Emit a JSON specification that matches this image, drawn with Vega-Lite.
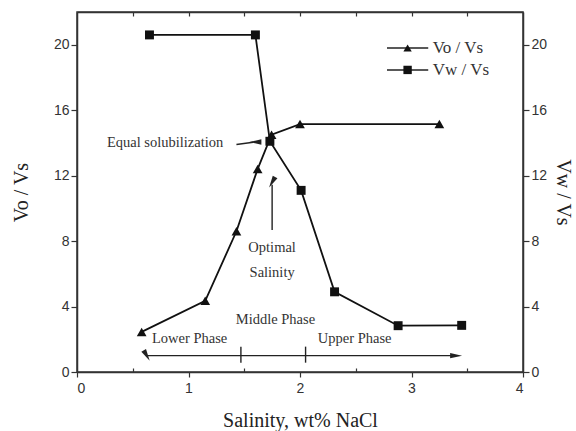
{
  "$schema": "https://vega.github.io/schema/vega-lite/v6.json",
  "width": 446,
  "height": 360,
  "autosize": {"type": "none"},
  "padding": {"left": 77, "top": 12, "right": 53, "bottom": 59},
  "background": "white",
  "config": {
    "view": {"stroke": "#333", "strokeWidth": 1.5},
    "axis": {
      "grid": false,
      "domainColor": "#333",
      "domainWidth": 1.5,
      "tickColor": "#333",
      "tickWidth": 1.2,
      "labelFont": "Liberation Sans",
      "labelFontSize": 14,
      "labelColor": "#333",
      "titleFont": "Liberation Serif",
      "titleFontSize": 20,
      "titleFontWeight": "normal",
      "titleColor": "#222"
    }
  },
  "datasets": {
    "series": [
      {"series": "Vo / Vs", "s": 0.58, "v": 2.45},
      {"series": "Vo / Vs", "s": 1.15, "v": 4.35},
      {"series": "Vo / Vs", "s": 1.43, "v": 8.6},
      {"series": "Vo / Vs", "s": 1.62, "v": 12.4},
      {"series": "Vo / Vs", "s": 1.745, "v": 14.5},
      {"series": "Vo / Vs", "s": 2.0, "v": 15.15},
      {"series": "Vo / Vs", "s": 3.25, "v": 15.15},
      {"series": "Vw / Vs", "s": 0.65, "v": 20.6},
      {"series": "Vw / Vs", "s": 1.6, "v": 20.6},
      {"series": "Vw / Vs", "s": 1.73, "v": 14.1},
      {"series": "Vw / Vs", "s": 2.01, "v": 11.1},
      {"series": "Vw / Vs", "s": 2.31, "v": 4.9},
      {"series": "Vw / Vs", "s": 2.88, "v": 2.83},
      {"series": "Vw / Vs", "s": 3.45, "v": 2.85}
    ],
    "labels": [
      {"x": 1.01, "y": 2.0, "t": "Lower Phase"},
      {"x": 1.78, "y": 3.18, "t": "Middle Phase"},
      {"x": 2.49, "y": 2.0, "t": "Upper Phase"},
      {"x": 0.79, "y": 14.0, "t": "Equal solubilization"},
      {"x": 1.75, "y": 7.56, "t": "Optimal"},
      {"x": 1.75, "y": 6.03, "t": "Salinity"}
    ],
    "segments": [
      {"x": 0.62, "y": 1.0, "x2": 3.4, "y2": 1.0},
      {"x": 1.47, "y": 0.57, "x2": 1.47, "y2": 1.55},
      {"x": 2.05, "y": 0.57, "x2": 2.05, "y2": 1.55},
      {"x": 1.43, "y": 13.9, "x2": 1.58, "y2": 14.04},
      {"x": 1.75, "y": 8.68, "x2": 1.75, "y2": 11.45}
    ],
    "heads": [
      {"x": 0.625, "y": 1.0, "dir": "left"},
      {"x": 3.4, "y": 1.0, "dir": "right"},
      {"x": 1.6, "y": 14.06, "dir": "upright"},
      {"x": 1.75, "y": 11.6, "dir": "up"}
    ],
    "legend": [
      {"series": "Vo / Vs", "y": 19.8, "x": 2.78, "x2": 3.15, "xm": 2.965, "xt": 3.19},
      {"series": "Vw / Vs", "y": 18.46, "x": 2.78, "x2": 3.15, "xm": 2.965, "xt": 3.19}
    ]
  },
  "layer": [
    {
      "layer": [
        {
          "data": {"name": "series"},
          "transform": [{"filter": "datum.series === 'Vo / Vs'"}],
          "mark": {"type": "line", "color": "#111", "strokeWidth": 1.8},
          "encoding": {
            "x": {"field": "s", "type": "quantitative", "scale": {"domain": [0, 4]},
              "axis": {"title": "Salinity, wt% NaCl", "values": [0, 0.5, 1, 1.5, 2, 2.5, 3, 3.5, 4],
                "labelExpr": "datum.value % 1 === 0 ? format(datum.value, 'd') : ''",
                "tickSize": {"condition": {"test": "datum.value % 1 === 0", "value": 5}, "value": -4},
                "labelPadding": 4, "titlePadding": 15}},
            "y": {"field": "v", "type": "quantitative", "scale": {"domain": [0, 22]},
              "axis": {"title": "Vo / Vs", "values": [0, 2, 4, 6, 8, 10, 12, 14, 16, 18, 20],
                "labelExpr": "datum.value % 4 === 0 ? datum.label : ''",
                "tickSize": {"condition": {"test": "datum.value % 4 === 0", "value": 6}, "value": 4},
                "titlePadding": 22}}
          }
        },
        {
          "data": {"name": "series"},
          "transform": [{"filter": "datum.series === 'Vo / Vs'"}],
          "mark": {"type": "point", "filled": true, "opacity": 1, "color": "#111", "size": 95},
          "encoding": {
            "x": {"field": "s", "type": "quantitative"},
            "y": {"field": "v", "type": "quantitative"},
            "shape": {"field": "series", "type": "nominal", "scale": {"domain": ["Vo / Vs", "Vw / Vs"], "range": ["triangle-up", "square"]}, "legend": null}
          }
        },
        {
          "data": {"name": "segments"},
          "mark": {"type": "rule", "color": "#222", "strokeWidth": 1.4},
          "encoding": {
            "x": {"field": "x", "type": "quantitative"},
            "y": {"field": "y", "type": "quantitative"},
            "x2": {"field": "x2"},
            "y2": {"field": "y2"}
          }
        },
        {
          "data": {"name": "heads"},
          "mark": {"type": "point", "filled": true, "opacity": 1, "color": "#222", "size": 144, "shape": "M1,0L-1,-0.45L-1,0.45Z"},
          "encoding": {
            "x": {"field": "x", "type": "quantitative"},
            "y": {"field": "y", "type": "quantitative"},
            "angle": {"field": "dir", "type": "nominal", "scale": {"domain": ["right", "left", "up", "upright"], "range": [0, 180, 270, 345]}, "legend": null}
          }
        },
        {
          "data": {"name": "labels"},
          "mark": {"type": "text", "font": "Liberation Serif", "fontSize": 14.5, "color": "#333", "align": "center", "baseline": "middle"},
          "encoding": {
            "x": {"field": "x", "type": "quantitative"},
            "y": {"field": "y", "type": "quantitative"},
            "text": {"field": "t"}
          }
        },
        {
          "data": {"name": "legend"},
          "mark": {"type": "rule", "color": "#222", "strokeWidth": 1.6},
          "encoding": {
            "x": {"field": "x", "type": "quantitative"},
            "x2": {"field": "x2"},
            "y": {"field": "y", "type": "quantitative"}
          }
        },
        {
          "data": {"name": "legend"},
          "mark": {"type": "point", "filled": true, "opacity": 1, "color": "#111", "size": 70},
          "encoding": {
            "x": {"field": "xm", "type": "quantitative"},
            "y": {"field": "y", "type": "quantitative"},
            "shape": {"field": "series", "type": "nominal", "legend": null}
          }
        },
        {
          "data": {"name": "legend"},
          "mark": {"type": "text", "font": "Liberation Serif", "fontSize": 17, "color": "#333", "align": "left", "baseline": "middle"},
          "encoding": {
            "x": {"field": "xt", "type": "quantitative"},
            "y": {"field": "y", "type": "quantitative"},
            "text": {"field": "series"}
          }
        }
      ]
    },
    {
      "layer": [
        {
          "data": {"name": "series"},
          "transform": [{"filter": "datum.series === 'Vw / Vs'"}],
          "mark": {"type": "line", "color": "#111", "strokeWidth": 1.8},
          "encoding": {
            "x": {"field": "s", "type": "quantitative", "scale": {"domain": [0, 4]},
              "axis": {"orient": "top", "title": null, "labels": false, "values": [0.5, 1, 1.5, 2, 2.5, 3, 3.5], "tickSize": -4}},
            "y": {"field": "v", "type": "quantitative", "scale": {"domain": [0, 22]},
              "axis": {"orient": "right", "title": "Vw / Vs", "values": [0, 2, 4, 6, 8, 10, 12, 14, 16, 18, 20],
                "labelExpr": "datum.value % 4 === 0 ? datum.label : ''",
                "tickSize": {"condition": {"test": "datum.value % 4 === 0", "value": 6}, "value": 4},
                "titlePadding": 6}}
          }
        },
        {
          "data": {"name": "series"},
          "transform": [{"filter": "datum.series === 'Vw / Vs'"}],
          "mark": {"type": "point", "filled": true, "opacity": 1, "color": "#111", "size": 80, "shape": "square"},
          "encoding": {
            "x": {"field": "s", "type": "quantitative"},
            "y": {"field": "v", "type": "quantitative"}
          }
        }
      ]
    }
  ],
  "resolve": {"scale": {"x": "independent", "y": "independent", "shape": "shared", "angle": "independent"}}
}
